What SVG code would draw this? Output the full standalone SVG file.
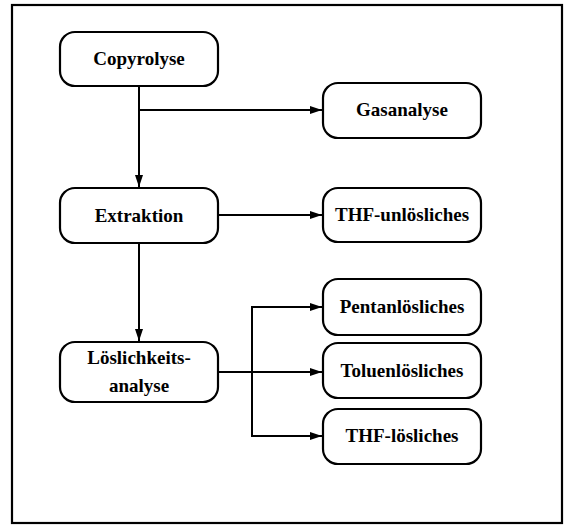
<svg xmlns="http://www.w3.org/2000/svg" width="566" height="527" viewBox="0 0 566 527">
<style>
.box{fill:#fff;stroke:#000;stroke-width:2.2}
.t{font-family:"Liberation Serif","Times New Roman",serif;font-weight:bold;font-size:19px;text-anchor:middle;fill:#000}
.c{fill:none;stroke:#000;stroke-width:2}
</style>
<defs>
<marker id="ah" viewBox="0 0 12 8" refX="12" refY="4" markerWidth="12" markerHeight="8" markerUnits="userSpaceOnUse" orient="auto">
<path d="M0,0 L12,4 L0,8 Z" fill="#000"/>
</marker>
</defs>
<rect x="0" y="0" width="566" height="527" fill="#fff"/>
<rect x="12" y="5" width="550" height="518" fill="none" stroke="#000" stroke-width="2.2"/>
<g id="connectors">
<path class="c" d="M139,86 V187" marker-end="url(#ah)"/>
<path class="c" d="M139,110 H322" marker-end="url(#ah)"/>
<path class="c" d="M218,215 H322" marker-end="url(#ah)"/>
<path class="c" d="M139,243 V341" marker-end="url(#ah)"/>
<path class="c" d="M218,372 H322" marker-end="url(#ah)"/>
<path class="c" d="M322,307 H252 V436 H322"/>
<path class="c" d="M300,307 H322" marker-end="url(#ah)"/>
<path class="c" d="M300,436 H322" marker-end="url(#ah)"/>
</g>
<g id="copyrolyse"><rect class="box" x="60" y="32" width="158" height="54" rx="15"/><text class="t" x="139" y="65">Copyrolyse</text></g>
<g id="extraktion"><rect class="box" x="60" y="188" width="158" height="55" rx="15"/><text class="t" x="139" y="222">Extraktion</text></g>
<g id="loeslichkeitsanalyse"><rect class="box" x="60" y="342" width="158" height="60" rx="15"/><text class="t" x="139" y="364">Löslichkeits-</text><text class="t" x="139" y="392">analyse</text></g>
<g id="gasanalyse"><rect class="box" x="323" y="83" width="158" height="55" rx="15"/><text class="t" x="402" y="116">Gasanalyse</text></g>
<g id="thf-unloesliches"><rect class="box" x="323" y="188" width="158" height="54" rx="15"/><text class="t" x="402" y="221">THF-unlösliches</text></g>
<g id="pentanloesliches"><rect class="box" x="323" y="279" width="158" height="56" rx="15"/><text class="t" x="402" y="313">Pentanlösliches</text></g>
<g id="toluenloesliches"><rect class="box" x="323" y="343" width="158" height="55" rx="15"/><text class="t" x="402" y="377">Toluenlösliches</text></g>
<g id="thf-loesliches"><rect class="box" x="323" y="409" width="158" height="55" rx="15"/><text class="t" x="402" y="442">THF-lösliches</text></g>
</svg>
